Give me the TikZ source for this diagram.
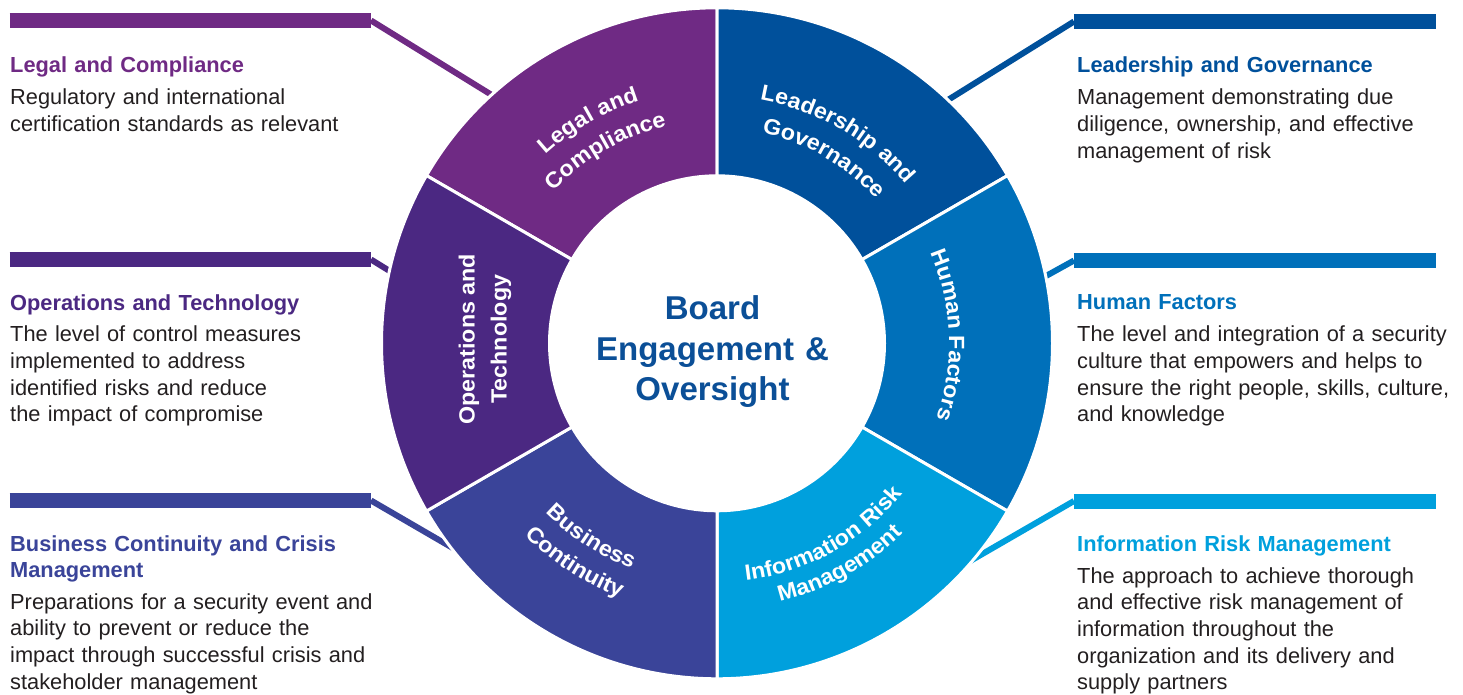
\documentclass[tikz,border=0pt]{standalone}
\usepackage{fontspec}
\setmainfont{Liberation Sans}
\newfontfamily\segfont{Liberation Sans}[FakeStretch=1.06]
\usepackage{tikz}
\usetikzlibrary{decorations.text}

\definecolor{legalc}{HTML}{6F2A84}
\definecolor{opsc}{HTML}{4B2882}
\definecolor{busc}{HTML}{3A4499}
\definecolor{leadc}{HTML}{00509B}
\definecolor{humanc}{HTML}{0070BA}
\definecolor{infoc}{HTML}{00A0DD}
\definecolor{boardc}{HTML}{0B4F97}
\definecolor{bodyc}{HTML}{231F20}

\tikzset{
    seg/.style={draw=white, line width=3pt},
    bar/.style={line width=15pt},
    link/.style={line width=6pt},
    head/.style={anchor=base west, inner sep=0pt, text width=440pt, align=left,
        font=\bfseries\fontsize{21.8}{26}\selectfont},
    body/.style={anchor=base west, inner sep=0pt, text width=440pt, align=left,
        text=bodyc, font=\fontsize{21.8}{26.7}\selectfont},
    arclbl/.style={decorate, decoration={text along path, text align=center,
        text={|\segfont\bfseries\fontsize{22}{26}\selectfont\color{white}|#1}}},
    oplbl/.style={rotate=90, align=center, inner sep=0pt, text=white,
        font=\segfont\bfseries\fontsize{22}{32}\selectfont},
    board/.style={anchor=base, inner sep=0pt, text width=300pt, align=center,
        text=boardc, font=\bfseries\fontsize{33}{40.5}\selectfont}}

\begin{document}
\begin{tikzpicture}[x=1pt, y=1pt]

            \useasboundingbox (0,0) rectangle (1463,694);

            \coordinate (lgbl) at (9.5,673.5);
            \coordinate (lgbr) at (371,673.5);
            \coordinate (opbl) at (9.5,434.5);
            \coordinate (opbr) at (371,434.5);
            \coordinate (bcbl) at (9.5,193.5);
            \coordinate (bcbr) at (371,193.5);
            \coordinate (ldbl) at (1074,672.5);
            \coordinate (ldbr) at (1436,672.5);
            \coordinate (hfbl) at (1074,433.5);
            \coordinate (hfbr) at (1436,433.5);
            \coordinate (irbl) at (1074,193);
            \coordinate (irbr) at (1436,193);

            \node[head, text=legalc] (lgh) at (10,621) {Legal and Compliance};
            \node[body] (lgt) at (10,589) {Regulatory and international\\certification standards as relevant};
            \node[head, text=opsc] (oph) at (10,383.3) {Operations and Technology};
            \node[body] (opt) at (10,352.3) {The level of control measures\\implemented to address\\identified risks and reduce\\the impact of compromise};
            \node[head, text=busc] (bch) at (10,142.3) {Business Continuity and Crisis\\Management};
            \node[body] (bct) at (10,85) {Preparations for a security event and\\ability to prevent or reduce the\\impact through successful crisis and\\stakeholder management};

            \node[head, text=leadc] (ldh) at (1077,621) {Leadership and Governance};
            \node[body] (ldt) at (1077,589) {Management demonstrating due\\diligence, ownership, and effective\\management of risk};
            \node[head, text=humanc] (hfh) at (1077,384.5) {Human Factors};
            \node[body] (hft) at (1077,352.3) {The level and integration of a security\\culture that empowers and helps to\\ensure the right people, skills, culture,\\and knowledge};
            \node[head, text=infoc] (irh) at (1077,142.3) {Information Risk Management};
            \node[body] (irt) at (1077,111) {The approach to achieve thorough\\and effective risk management of\\information throughout the\\organization and its delivery and\\supply partners};

            \begin{scope}[shift={(717,350.7)}]

            \coordinate (lgr) at (132:331);
            \coordinate (opr) at (167.8:331);
            \coordinate (bcr) at (219.2:331);
            \coordinate (ldr) at (46.7:331);
            \coordinate (hfr) at (11.3:331);
            \coordinate (irr) at (-42.2:331);

            \draw[bar, legalc] (lgbl) -- (lgbr);
            \draw[link, legalc] (lgbr) -- (lgr);
            \draw[bar, opsc] (opbl) -- (opbr);
            \draw[link, opsc] (opbr) -- (opr);
            \draw[bar, busc] (bcbl) -- (bcbr);
            \draw[link, busc] (bcbr) -- (bcr);
            \draw[bar, leadc] (ldbl) -- (ldbr);
            \draw[link, leadc] (ldbl) -- (ldr);
            \draw[bar, humanc] (hfbl) -- (hfbr);
            \draw[link, humanc] (hfbl) -- (hfr);
            \draw[bar, infoc] (irbl) -- (irbr);
            \draw[link, infoc] (irbl) -- (irr);

            \filldraw[seg, fill=legalc] (150:335.5) arc[start angle=150, end angle=90, radius=335.5] -- (90:167.5) arc[start angle=90, end angle=150, radius=167.5] -- cycle;
            \filldraw[seg, fill=leadc] (90:335.5) arc[start angle=90, end angle=30, radius=335.5] -- (30:167.5) arc[start angle=30, end angle=90, radius=167.5] -- cycle;
            \filldraw[seg, fill=humanc] (30:335.5) arc[start angle=30, end angle=-30, radius=335.5] -- (-30:167.5) arc[start angle=-30, end angle=30, radius=167.5] -- cycle;
            \filldraw[seg, fill=infoc] (-30:335.5) arc[start angle=-30, end angle=-90, radius=335.5] -- (-90:167.5) arc[start angle=-90, end angle=-30, radius=167.5] -- cycle;
            \filldraw[seg, fill=busc] (270:335.5) arc[start angle=270, end angle=210, radius=335.5] -- (210:167.5) arc[start angle=210, end angle=270, radius=167.5] -- cycle;
            \filldraw[seg, fill=opsc] (210:335.5) arc[start angle=210, end angle=150, radius=335.5] -- (150:167.5) arc[start angle=150, end angle=210, radius=167.5] -- cycle;

            \path[arclbl={Legal and}] (150:255) arc[start angle=150, end angle=90, radius=255];
            \path[arclbl={Compliance}] (150:223) arc[start angle=150, end angle=90, radius=223];
            \path[arclbl={Leadership and}] (90:247) arc[start angle=90, end angle=30, radius=247];
            \path[arclbl={Governance}] (90:215) arc[start angle=90, end angle=30, radius=215];
            \path[arclbl={Human Factors}] (32:232) arc[start angle=32, end angle=-28, radius=232];
            \path[arclbl={Information Risk}] (-91:239) arc[start angle=-91, end angle=-31, radius=239];
            \path[arclbl={Management}] (-91:266) arc[start angle=-91, end angle=-31, radius=266];
            \path[arclbl={Business}] (207:241) arc[start angle=207, end angle=267, radius=241];
            \path[arclbl={Continuity}] (207:272) arc[start angle=207, end angle=267, radius=272];
            \node[oplbl] (opl) at (-232,4) {Operations and\\Technology};

            \node[board] (brd) at (-4.5,23.3) {Board\\Engagement \&\\Oversight};

            \end{scope}

        \end{tikzpicture}
\end{document}
